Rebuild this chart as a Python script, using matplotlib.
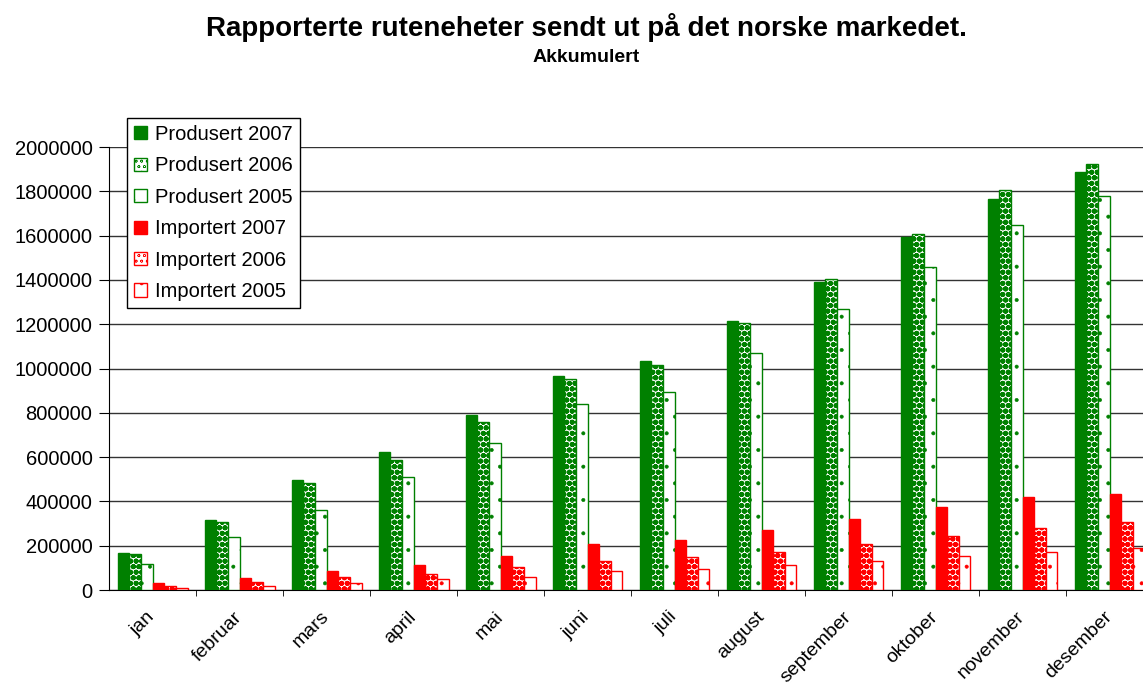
import matplotlib.pyplot as plt
import matplotlib.transforms as mtransforms
import numpy as np

plt.rcParams['font.family'] = ['Liberation Sans', 'DejaVu Sans']

# Data
months = ['jan', 'februar', 'mars', 'april', 'mai', 'juni', 'juli',
          'august', 'september', 'oktober', 'november', 'desember']
prod_2007 = [166000, 317000, 497000, 623000, 790000, 966000, 1034000,
             1214000, 1390000, 1593000, 1765000, 1889000]
prod_2006 = [161000, 307000, 483000, 587000, 758000, 953000, 1016000,
             1205000, 1404000, 1606000, 1806000, 1923000]
prod_2005 = [117000, 238000, 361000, 510000, 664000, 840000, 894000,
             1070000, 1269000, 1457000, 1646000, 1779000]
imp_2007 = [30000, 54000, 86000, 113000, 153000, 208000, 226000,
            271000, 321000, 373000, 420000, 433000]
imp_2006 = [18000, 36000, 59000, 72000, 104000, 131000, 149000,
            172000, 208000, 244000, 279000, 308000]
imp_2005 = [7500, 18000, 32000, 50000, 59000, 86000, 95000,
            113000, 131000, 152000, 170000, 191000]

# label, values, face, edge, hatch, hatch linewidth
series = [
    ('Produsert 2007', prod_2007, 'green', 'green', None, 1.0),
    ('Produsert 2006', prod_2006, 'white', 'green', 'ooo', 2.0),
    ('Produsert 2005', prod_2005, 'white', 'green', '.', 0.4),
    ('Importert 2007', imp_2007, 'red', 'red', None, 1.0),
    ('Importert 2006', imp_2006, 'white', 'red', 'ooo', 2.0),
    ('Importert 2005', imp_2005, 'white', 'red', '.', 0.4),
]

fig = plt.figure(figsize=(11.43, 6.88), dpi=100)
ax = fig.add_axes([0.0954, 0.1424, 0.9046, 0.6439])

x = np.arange(len(months))
width = 0.134
for i, (label, vals, fc, ec, hatch, hlw) in enumerate(series):
    plt.rcParams['hatch.linewidth'] = hlw
    bars = ax.bar(x + (i - 2.5) * width, vals, width, label=label,
                  color=fc, edgecolor=ec, hatch=hatch, linewidth=1, zorder=3)
    for b in bars:
        if hasattr(b, 'set_hatch_linewidth'):
            b.set_hatch_linewidth(hlw)

ax.set_xlim(-0.5, 11.385)
ax.set_ylim(0, 2000000)
ax.set_yticks(np.arange(0, 2000001, 200000))
ax.set_yticklabels([str(v) for v in range(0, 2000001, 200000)], fontsize=14.5)
ax.yaxis.grid(True, color='#333333', linewidth=1, zorder=0)
ax.set_axisbelow(True)

ax.set_xticks(x)
ax.set_xticklabels(months, rotation=45, ha='right', rotation_mode='anchor',
                   fontsize=14)
ax.tick_params(axis='x', which='major', length=0, pad=11)
ax.set_xticks(x[:-1] + 0.5, minor=True)
ax.tick_params(axis='x', which='minor', length=4.5, color='black')
ax.tick_params(axis='y', length=7, pad=5, color='black')

shift = mtransforms.ScaledTranslation(-6 / 100, -3 / 100, fig.dpi_scale_trans)
for lbl in ax.get_xticklabels():
    lbl.set_transform(lbl.get_transform() + shift)

ax.spines['top'].set_visible(False)
ax.spines['right'].set_visible(False)

leg = ax.legend(loc='upper left', bbox_to_anchor=(127 / 1143, 1 - 118 / 688),
                bbox_transform=fig.transFigure, fontsize=14.5, frameon=True,
                fancybox=False, edgecolor='black', framealpha=1,
                handlelength=0.65, handleheight=0.65, handletextpad=0.4,
                labelspacing=0.62, borderpad=0.34, borderaxespad=0)
leg.get_frame().set_linewidth(1)

fig.text(0.513, 1 - 27 / 688, 'Rapporterte ruteneheter sendt ut på det norske markedet.',
         ha='center', va='center', fontsize=20, fontweight='bold')
fig.text(0.513, 1 - 57 / 688, 'Akkumulert', ha='center', va='center',
         fontsize=14, fontweight='bold')

fig.savefig('out.png', dpi=100)
